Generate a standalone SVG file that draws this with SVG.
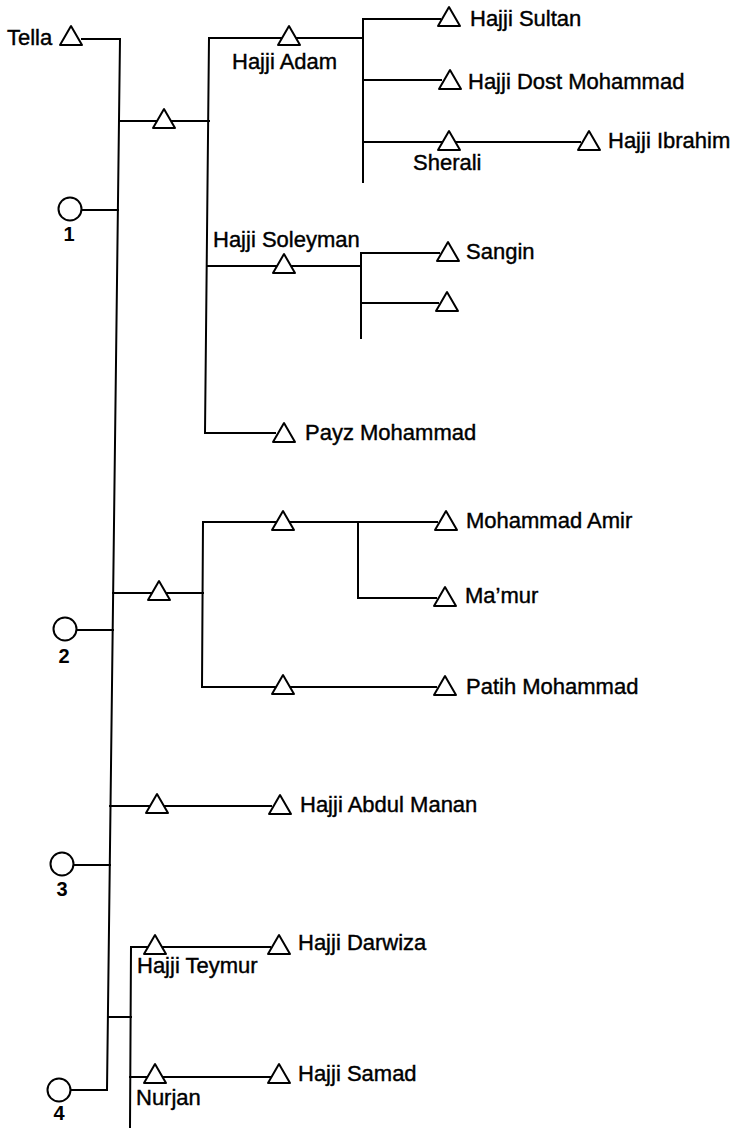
<svg xmlns="http://www.w3.org/2000/svg" xmlns:xlink="http://www.w3.org/1999/xlink" width="738" height="1128" viewBox="0 0 738 1128">
<style>
.ln{stroke:#000;stroke-width:2;fill:none;stroke-linecap:square}
.m{fill:#fff;stroke:#000;stroke-width:2;stroke-linejoin:round}
.t{font-family:"Liberation Sans",Arial,sans-serif;font-size:22px;fill:#000;stroke:#000;stroke-width:0.4}
.d{font-family:"Liberation Sans",Arial,sans-serif;font-size:20px;font-weight:bold;fill:#000;text-anchor:middle}
</style>
<defs>
<path id="tri" d="M-11,0 L11,0 L0,-19 Z"/>
</defs>
<g id="connectors">
<path class="ln" d="M82,39 H120 L107,1090"/>
<path class="ln" d="M81,210 H118"/>
<path class="ln" d="M119,121 H209"/>
<path class="ln" d="M363,38 H209 L205,433 H275"/>
<path class="ln" d="M440,19 H363 V182"/>
<path class="ln" d="M363,80 H441"/>
<path class="ln" d="M363,142 H580"/>
<path class="ln" d="M207,266 H361"/>
<path class="ln" d="M439,253 H361 V338"/>
<path class="ln" d="M361,303 H438"/>
<path class="ln" d="M76,630 H113"/>
<path class="ln" d="M113,593 H203"/>
<path class="ln" d="M437,522 H203 L202,687 H436"/>
<path class="ln" d="M358,522 V598 H436"/>
<path class="ln" d="M110,806 H271"/>
<path class="ln" d="M74,865 H110"/>
<path class="ln" d="M71,1090 H107"/>
<path class="ln" d="M108,1017 H131"/>
<path class="ln" d="M270,947 H131 L130,1128"/>
<path class="ln" d="M130,1077 H270"/>
</g>
<g id="tella"><use xlink:href="#tri" class="m" transform="translate(71,45)"/><text class="t" x="7" y="45">Tella</text></g>
<g id="w1"><circle class="m" cx="70" cy="209" r="11.5"/><text class="d" x="69" y="241">1</text></g>
<g id="w2"><circle class="m" cx="65" cy="629" r="11.5"/><text class="d" x="64" y="663">2</text></g>
<g id="w3"><circle class="m" cx="62" cy="864" r="11.5"/><text class="d" x="62" y="896">3</text></g>
<g id="w4"><circle class="m" cx="59" cy="1090" r="11.5"/><text class="d" x="59" y="1120">4</text></g>
<g id="s1"><use xlink:href="#tri" class="m" transform="translate(164,128)"/></g>
<g id="hajji-adam"><use xlink:href="#tri" class="m" transform="translate(289,45)"/><text class="t" x="232" y="69">Hajji Adam</text></g>
<g id="hajji-sultan"><use xlink:href="#tri" class="m" transform="translate(449,26)"/><text class="t" x="470" y="26">Hajji Sultan</text></g>
<g id="hajji-dost"><use xlink:href="#tri" class="m" transform="translate(450,89)"/><text class="t" x="468" y="89">Hajji Dost Mohammad</text></g>
<g id="sherali"><use xlink:href="#tri" class="m" transform="translate(449,150)"/><text class="t" x="413" y="170">Sherali</text></g>
<g id="hajji-ibrahim"><use xlink:href="#tri" class="m" transform="translate(589,150)"/><text class="t" x="608" y="148">Hajji Ibrahim</text></g>
<g id="hajji-soleyman"><use xlink:href="#tri" class="m" transform="translate(284,273)"/><text class="t" x="213" y="247">Hajji Soleyman</text></g>
<g id="sangin"><use xlink:href="#tri" class="m" transform="translate(448,261)"/><text class="t" x="466" y="259">Sangin</text></g>
<g id="unnamed"><use xlink:href="#tri" class="m" transform="translate(447,311)"/></g>
<g id="payz"><use xlink:href="#tri" class="m" transform="translate(284,442)"/><text class="t" x="305" y="440">Payz Mohammad</text></g>
<g id="s2"><use xlink:href="#tri" class="m" transform="translate(159,600)"/></g>
<g id="s2a"><use xlink:href="#tri" class="m" transform="translate(283,530)"/></g>
<g id="mohammad-amir"><use xlink:href="#tri" class="m" transform="translate(446,530)"/><text class="t" x="466" y="528">Mohammad Amir</text></g>
<g id="mamur"><use xlink:href="#tri" class="m" transform="translate(445,606)"/><text class="t" x="465" y="603">Ma’mur</text></g>
<g id="s2b"><use xlink:href="#tri" class="m" transform="translate(283,694)"/></g>
<g id="patih"><use xlink:href="#tri" class="m" transform="translate(445,695)"/><text class="t" x="466" y="694">Patih Mohammad</text></g>
<g id="s3"><use xlink:href="#tri" class="m" transform="translate(157,813)"/></g>
<g id="abdul-manan"><use xlink:href="#tri" class="m" transform="translate(280,814)"/><text class="t" x="300" y="812">Hajji Abdul Manan</text></g>
<g id="teymur"><use xlink:href="#tri" class="m" transform="translate(155,954)"/><text class="t" x="137" y="973">Hajji Teymur</text></g>
<g id="darwiza"><use xlink:href="#tri" class="m" transform="translate(279,954)"/><text class="t" x="298" y="950">Hajji Darwiza</text></g>
<g id="nurjan"><use xlink:href="#tri" class="m" transform="translate(155,1083)"/><text class="t" x="136" y="1105">Nurjan</text></g>
<g id="samad"><use xlink:href="#tri" class="m" transform="translate(279,1083)"/><text class="t" x="298" y="1081">Hajji Samad</text></g>
</svg>
